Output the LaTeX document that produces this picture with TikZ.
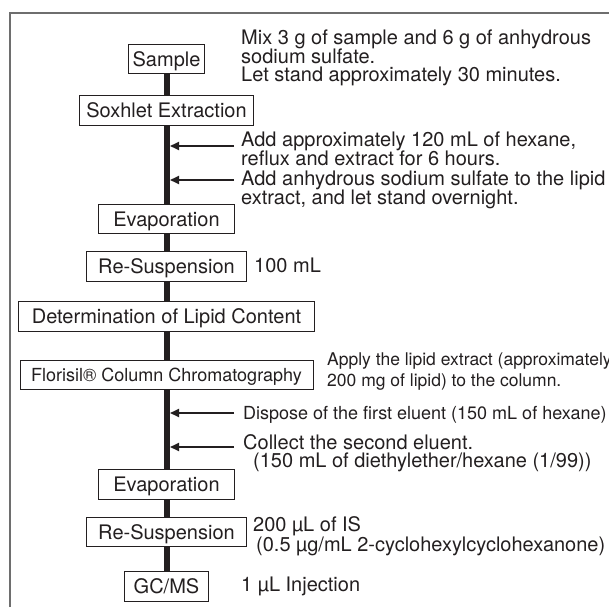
\documentclass[tikz,border=0pt]{standalone}
\usepackage{fontspec}
\setmainfont{TeX Gyre Heros}
\usetikzlibrary{arrows.meta}
\definecolor{ink}{RGB}{35,31,32}
\definecolor{framegray}{RGB}{110,110,110}
\begin{document}
\begin{tikzpicture}[x=1pt,y=-1pt,
  box/.style={draw=ink, line width=0.9pt, fill=white, inner sep=0pt,
    minimum height=29.5pt, text height=14.4pt, text depth=0pt,
    font=\fontsize{20}{20}\selectfont, text=ink},
  smallbox/.style={box, text height=13pt, font=\fontsize{18}{18}\selectfont},
  txt/.style={anchor=base west, inner sep=0pt, font=\fontsize{20}{20}\selectfont, text=ink},
  smalltxt/.style={txt, font=\fontsize{18}{18}\selectfont},
  smallertxt/.style={txt, font=\fontsize{17.5}{17.5}\selectfont},
  spine/.style={line width=6pt, ink},
  feed/.style={line width=2pt, ink, -{Triangle[length=9pt,width=8pt]}},
  frameline/.style={line width=1.3pt, framegray}]
\useasboundingbox (0,0) rectangle (609,607);
\draw[frameline] (10,607) -- (10,13) -- (609,13);

% boxes
\node[box, minimum width=76pt]  (sample) at (166.5,59)    {Sample};
\node[box, minimum width=174pt] (sox)    at (166.5,110.5) {Soxhlet Extraction};
\node[box, minimum width=136pt] (evap1)  at (166.5,219)   {Evaporation};
\node[box, minimum width=160pt] (resus1) at (166.5,266.5) {Re-Suspension};
\node[box, minimum width=296pt] (lipid)  at (166.5,316.5) {Determination of Lipid Content};
\node[smallbox, minimum width=293pt] (flor) at (166.5,375) {Florisil® Column Chromatography};
\node[box, minimum width=136pt] (evap2)  at (166.5,484.5) {Evaporation};
\node[box, minimum width=160pt] (resus2) at (166.5,532)   {Re-Suspension};
\node[box, minimum width=84pt]  (gcms)   at (166.5,586.5) {GC/MS};

% spine
\foreach \a/\b in {sample/sox, sox/evap1, evap1/resus1, resus1/lipid, lipid/flor, flor/evap2, evap2/resus2, resus2/gcms}
  \draw[spine] (\a.south) -- (\b.north);

% feed arrows
\coordinate (f1) at (234,146); \coordinate (s1) at (170,146);
\coordinate (f2) at (234,180); \coordinate (s2) at (170,180);
\coordinate (f3) at (234,413); \coordinate (s3) at (170,413);
\coordinate (f4) at (234,447); \coordinate (s4) at (170,447);
\draw[feed] (f1) -- (s1);
\draw[feed] (f2) -- (s2);
\draw[feed] (f3) -- (s3);
\draw[feed] (f4) -- (s4);

% notes
\node[txt] (t1a) at (241,44.5) {Mix 3 g of sample and 6 g of anhydrous};
\node[txt] (t1b) at (241,63.5) {sodium sulfate.};
\node[txt] (t1c) at (241,82) {Let stand approximately 30 minutes.};
\node[txt] (t2a) at (241,146) {Add approximately 120 mL of hexane,};
\node[txt] (t2b) at (241,165) {reflux and extract for 6 hours.};
\node[txt] (t3a) at (241,185) {Add anhydrous sodium sulfate to the lipid};
\node[txt] (t3b) at (241,204) {extract, and let stand overnight.};
\node[txt] (t4) at (254,272) {100 mL};
\node[smallertxt] (t5a) at (327,365) {Apply the lipid extract (approximately};
\node[smallertxt] (t5b) at (327,386) {200 mg of lipid) to the column.};
\node[smalltxt] (t6) at (243,419) {Dispose of the first eluent (150 mL of hexane)};
\node[txt] (t7a) at (243,449) {Collect the second eluent.};
\node[txt] (t7b) at (253,467) {(150 mL of diethylether/hexane (1/99))};
\node[txt] (t8a) at (253,531) {200 µL of IS};
\node[txt] (t8b) at (256,551) {(0.5 µg/mL 2-cyclohexylcyclohexanone)};
\node[txt] (t9) at (241,591) {1 µL Injection};
\end{tikzpicture}
\end{document}
